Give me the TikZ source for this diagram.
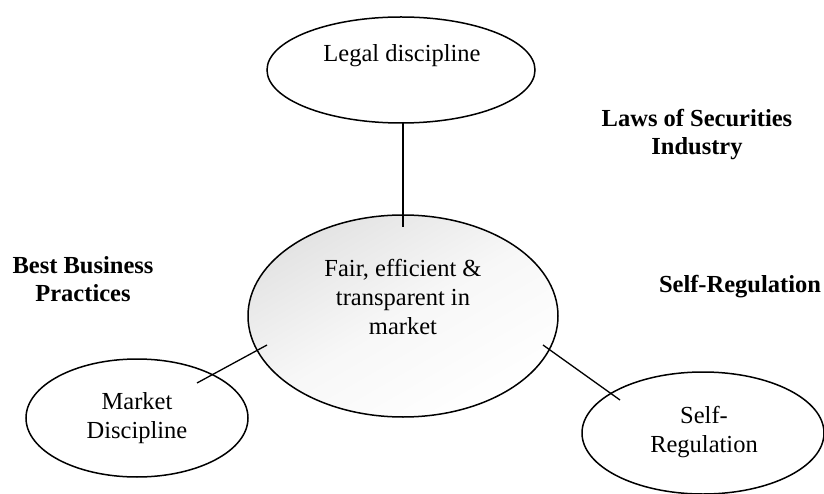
\documentclass[tikz,border=0pt]{standalone}
\usepackage{fontspec}
\setmainfont{Liberation Serif}
\usetikzlibrary{shapes.geometric}
\begin{document}
\begin{tikzpicture}[x=1pt,y=-1pt,
  oval/.style={draw=black,line width=1.5pt,shape=ellipse,inner sep=0pt},
  txt/.style={align=center,font=\fontsize{24.5}{29}\selectfont,inner sep=0pt},
  btxt/.style={align=center,font=\fontsize{24.5}{28}\selectfont\bfseries,inner sep=0pt},
  link/.style={draw=black,line width=1.3pt}]
\useasboundingbox (0,0) rectangle (824,494);
\node[oval,minimum width=268pt,minimum height=106pt] (legal) at (401,70) {};
\node[oval,minimum width=310pt,minimum height=202pt,top color=gray!22,bottom color=white,middle color=gray!6,shading angle=30] (fair) at (403,316) {};
\node[oval,minimum width=222pt,minimum height=118pt] (mkt) at (137,418) {};
\node[oval,minimum width=242pt,minimum height=122pt] (self) at (703,433) {};
\node[txt] (tlegal) at (402,56) {Legal discipline};
\node[txt] (tfair) at (403,297) {Fair, efficient \&\\transparent in\\market};
\node[txt] (tmkt) at (137,418) {Market\\Discipline};
\node[txt] (tself) at (704,432) {Self-\\Regulation};
\node[btxt] (laws) at (697,135) {Laws of Securities\\Industry};
\node[btxt] (best) at (83,279) {Best Business\\Practices};
\node[btxt] (selfreg) at (740,287) {Self-Regulation};
\coordinate (l1) at (403,122);
\coordinate (l2) at (403,227);
\coordinate (m1) at (197,383);
\coordinate (m2) at (267,345);
\coordinate (s1) at (543,345);
\coordinate (s2) at (620,400);
\draw[link] (l1) -- (l2);
\draw[link] (m1) -- (m2);
\draw[link] (s1) -- (s2);
\end{tikzpicture}
\end{document}
